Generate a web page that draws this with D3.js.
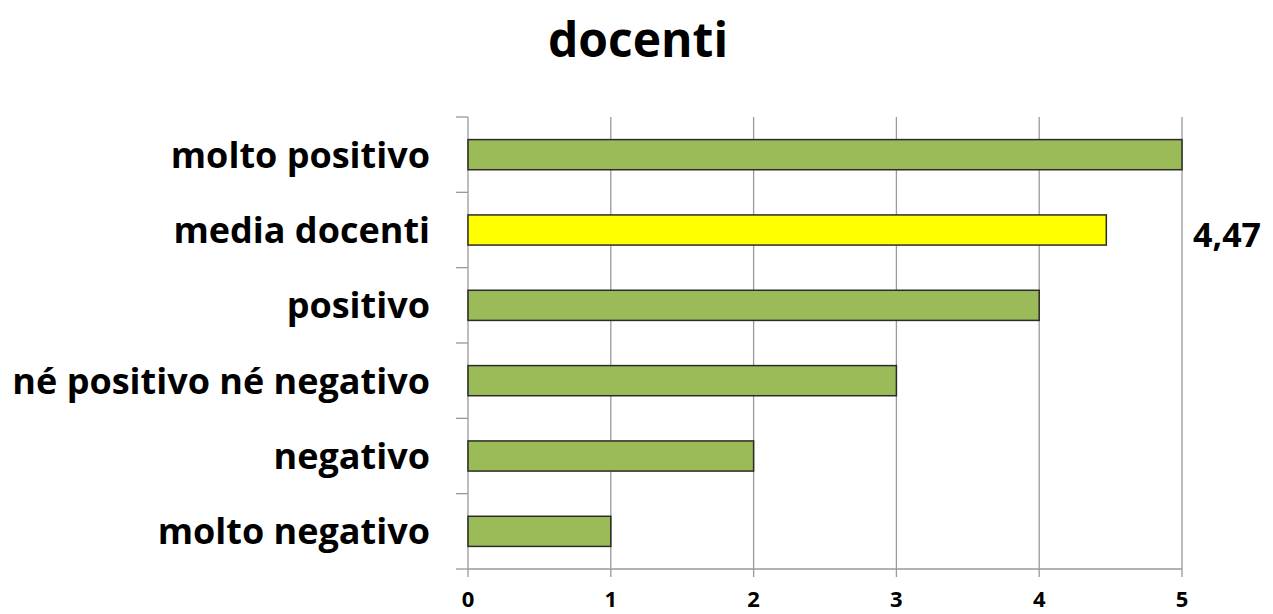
<!DOCTYPE html>
<html>
<head>
<meta charset="utf-8">
<script src="https://cdn.jsdelivr.net/npm/d3@7"></script>
<style>
  body { margin: 0; background: #fff; }
  text { font-family: "Open Sans", "DejaVu Sans", sans-serif; font-weight: bold; fill: #000; }
</style>
</head>
<body>
<div id="chart"></div>
<script>
// data
var categories = ["molto positivo", "media docenti", "positivo", "né positivo né negativo", "negativo", "molto negativo"];
var values = [5, 4.47, 4, 3, 2, 1];
var highlight = "media docenti";
var xTicks = [0, 1, 2, 3, 4, 5];
var valueLabel = "4,47";

var width = 1273, height = 614,
    margin = { top: 117, left: 468 };

var svg = d3.select("#chart").append("svg")
    .attr("width", width)
    .attr("height", height);

svg.append("text")
    .attr("x", 638)
    .attr("y", 57)
    .attr("text-anchor", "middle")
    .style("font-size", "48px")
    .text("docenti");

var g = svg.append("g")
    .attr("transform", "translate(" + margin.left + "," + margin.top + ")");

var plotW = 714, plotH = 452;

var xScale = d3.scaleLinear().domain([0, 5]).range([0, plotW]);
var yScale = d3.scaleBand().domain(categories).range([0, plotH]).paddingInner(0.6).paddingOuter(0.3);

// gridlines + bottom tick marks
g.selectAll(".grid")
    .data(xTicks)
    .enter().append("line")
    .attr("x1", function(d){ return xScale(d) })
    .attr("x2", function(d){ return xScale(d) })
    .attr("y1", 0)
    .attr("y2", plotH + 8)
    .attr("stroke", "#9a9a9a")
    .attr("stroke-width", 1.3);

// left axis ticks at band boundaries
var bandStep = plotH / categories.length;
var leftTicks = d3.range(categories.length + 1);
g.selectAll(".ltick")
    .data(leftTicks)
    .enter().append("line")
    .attr("x1", -12)
    .attr("x2", 0)
    .attr("y1", function(d){ return d * bandStep })
    .attr("y2", function(d){ return d * bandStep })
    .attr("stroke", "#9a9a9a")
    .attr("stroke-width", 1.3);

// bottom axis line
g.append("line")
    .attr("x1", 0).attr("x2", xScale(5))
    .attr("y1", plotH).attr("y2", plotH)
    .attr("stroke", "#9a9a9a")
    .attr("stroke-width", 1.3);

g.selectAll(".bar")
    .data(values)
    .enter().append("rect")
    .attr("x", 0)
    .attr("y", function(d, i){ return yScale(categories[i]) })
    .attr("width", function(d){ return xScale(d) })
    .attr("height", yScale.bandwidth())
    .attr("fill", function(d, i){ return categories[i] == highlight ? "#ffff00" : "#9bbb59" })
    .attr("stroke", "#2b2b2b")
    .attr("stroke-width", 1.5);

// category labels
g.selectAll(".cat")
    .data(categories)
    .enter().append("text")
    .attr("x", -38)
    .attr("y", function(d){ return yScale(d) + yScale.bandwidth() / 2 })
    .attr("dy", "0.36em")
    .attr("text-anchor", "end")
    .style("font-size", "36px")
    .text(function(d){ return d });

// x tick labels
g.selectAll(".xlab")
    .data(xTicks)
    .enter().append("text")
    .attr("x", function(d){ return xScale(d) })
    .attr("y", plotH + 38)
    .attr("text-anchor", "middle")
    .style("font-size", "22px")
    .text(function(d){ return d });

// value label for the average
g.append("text")
    .attr("x", 725)
    .attr("y", yScale(highlight) + yScale.bandwidth() / 2)
    .attr("dy", "0.5em")
    .style("font-size", "34px")
    .text(valueLabel);
</script>
</body>
</html>
